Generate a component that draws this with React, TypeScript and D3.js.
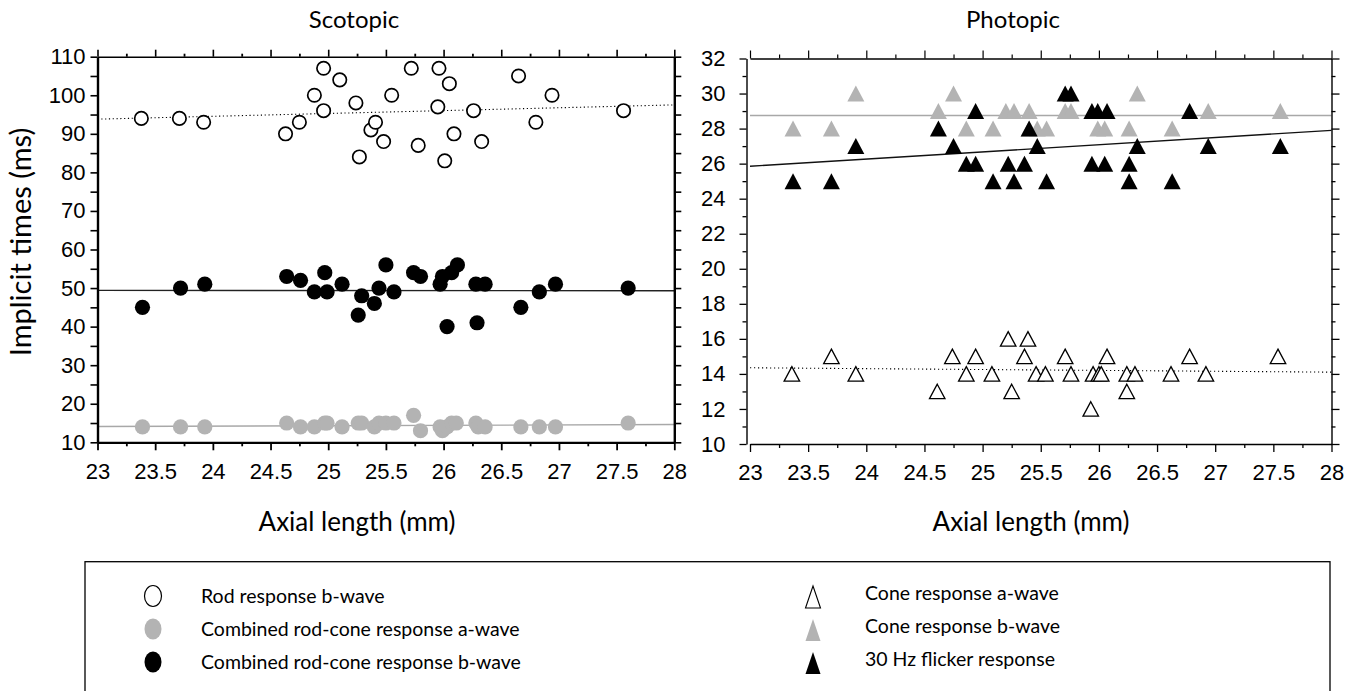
import React, { useRef, useEffect } from "react";
import * as d3 from "d3";

// ---- Scotopic panel ----
const rodX = [23.38, 23.71, 23.92, 24.63, 24.75, 24.88, 24.96, 24.96, 25.10, 25.24, 25.27, 25.37, 25.41, 25.48, 25.55, 25.72, 25.78, 25.96, 25.95, 26.05, 26.01, 26.09, 26.26, 26.33, 26.65, 26.80, 26.94, 27.56];
const rodY = [94, 94, 93, 90, 93, 100, 107, 96, 104, 98, 84, 91, 93, 88, 100, 107, 87, 107, 97, 103, 83, 90, 96, 88, 105, 93, 100, 96];

const mixBX = [23.39, 23.72, 23.93, 24.64, 24.76, 24.88, 24.97, 24.99, 25.12, 25.26, 25.29, 25.40, 25.44, 25.50, 25.57, 25.74, 25.80, 25.97, 25.99, 26.03, 26.07, 26.12, 26.28, 26.29, 26.36, 26.67, 26.83, 26.97, 27.60];
const mixBY = [45, 50, 51, 53, 52, 49, 54, 49, 51, 43, 48, 46, 50, 56, 49, 54, 53, 51, 53, 40, 54, 56, 51, 41, 51, 45, 49, 51, 50];

const mixAX = [23.39, 23.72, 23.93, 24.64, 24.76, 24.88, 24.97, 24.99, 25.12, 25.26, 25.29, 25.40, 25.44, 25.50, 25.57, 25.74, 25.80, 25.97, 25.99, 26.03, 26.07, 26.11, 26.28, 26.30, 26.36, 26.67, 26.83, 26.97, 27.60];
const mixAY = [14, 14, 14, 15, 14, 14, 15, 15, 14, 15, 15, 14, 15, 15, 15, 17, 13, 14, 13, 14, 15, 15, 15, 14, 14, 14, 14, 14, 15];

// regression lines: value at x = 23 and x = 28
const rodFit = [93.8, 97.5];
const mixBFit = [49.4, 49.3];
const mixAFit = [14.1, 14.6];

// ---- Photopic panel ----
const coneAX = [23.36, 23.70, 23.91, 24.61, 24.74, 24.86, 24.94, 25.08, 25.22, 25.25, 25.36, 25.39, 25.46, 25.54, 25.71, 25.76, 25.93, 25.95, 26.00, 26.02, 26.07, 26.24, 26.24, 26.31, 26.62, 26.78, 26.92, 27.54];
const coneAY = [14, 15, 14, 13, 15, 14, 15, 14, 16, 13, 15, 16, 14, 14, 15, 14, 12, 14, 14, 14, 15, 14, 13, 14, 14, 15, 14, 15];

const coneBX = [23.37, 23.70, 24.86, 25.09, 25.40, 25.47, 25.55, 25.99, 26.05, 26.26, 26.63, 24.62, 25.20, 25.27, 25.40, 25.71, 25.76, 26.94, 27.56, 23.91, 24.75, 26.33];
const coneBY = [28, 28, 28, 28, 28, 28, 28, 28, 28, 28, 28, 29, 29, 29, 29, 29, 29, 29, 29, 30, 30, 30];

const flickX = [23.37, 23.70, 25.09, 25.27, 25.55, 26.26, 26.63, 24.86, 24.94, 25.22, 25.36, 25.94, 26.05, 26.26, 23.91, 24.75, 25.47, 26.33, 26.94, 27.56, 24.62, 25.40, 24.94, 25.94, 25.99, 26.07, 26.78, 25.71, 25.76];
const flickY = [25, 25, 25, 25, 25, 25, 25, 26, 26, 26, 26, 26, 26, 26, 27, 27, 27, 27, 27, 27, 28, 28, 29, 29, 29, 29, 29, 30, 30];

const coneAFit = [14.35, 14.1];
const coneBFit = [28.75, 28.75];
const flickFit = [25.85, 27.9];

// ---- ticks ----
const xTicks = [23, 23.5, 24, 24.5, 25, 25.5, 26, 26.5, 27, 27.5, 28];
const xMinor = [23.25, 23.75, 24.25, 24.75, 25.25, 25.75, 26.25, 26.75, 27.25, 27.75];
const scotTicks = [10, 15, 20, 25, 30, 35, 40, 45, 50, 55, 60, 65, 70, 75, 80, 85, 90, 95, 100, 105, 110];
const photMajor = [10, 12, 14, 16, 18, 20, 22, 24, 26, 28, 30, 32];
const photMinor = [11, 13, 15, 17, 19, 21, 23, 25, 27, 29, 31];

const legendLeft = ["Rod response b-wave", "Combined rod-cone response a-wave", "Combined rod-cone response b-wave"];
const legendRight = ["Cone response a-wave", "Cone response b-wave", "30 Hz flicker response"];

const GRAY = "#b3b3b3";
const NUM_FONT = "'Liberation Sans', Arial, sans-serif";
const TXT_FONT = "Lato, 'Open Sans', sans-serif";

const zip = (xs: number[], ys: number[]) => xs.map((x, i) => ({ x, y: ys[i] }));

const tri = (w: number, h: number) => `M0,${-h / 2}L${w / 2},${h / 2}L${-w / 2},${h / 2}Z`;

function styleAxis(g: any, lw: number, tlw: number) {
  g.attr("font-family", NUM_FONT).attr("font-size", 22);
  g.select(".domain").attr("stroke-width", lw);
  g.selectAll(".tick line").attr("stroke-width", tlw);
  g.selectAll("text").attr("fill", "#000");
}

export default function App() {
  const svgRef = useRef<SVGSVGElement>(null);

  useEffect(() => {
    const svg = d3.select(svgRef.current);
    svg.selectAll("*").remove();

    // ================= Scotopic =================
    const x1 = d3.scaleLinear().domain([23, 28]).range([97.5, 674.3]);
    const y1 = d3.scaleLinear().domain([10, 110]).range([442.3, 56.7]);
    const p1 = svg.append("g");

    const fitLine = (g: any, x: any, y: any, vals: number[], color: string, dash: string | null) => {
      g.append("line")
        .attr("x1", x(23)).attr("y1", y(vals[0]))
        .attr("x2", x(28)).attr("y2", y(vals[1]))
        .attr("stroke", color).attr("stroke-width", dash ? 1.1 : 1.4)
        .attr("stroke-dasharray", dash);
    };

    fitLine(p1, x1, y1, mixAFit, "#a8a8a8", null);
    fitLine(p1, x1, y1, mixBFit, "#222", null);
    fitLine(p1, x1, y1, rodFit, "#000", "1.2 2.6");

    p1.append("g").selectAll("circle").data(zip(mixAX, mixAY)).join("circle")
      .attr("cx", d => x1(d.x)).attr("cy", d => y1(d.y)).attr("r", 7.6).attr("fill", GRAY);
    p1.append("g").selectAll("circle").data(zip(mixBX, mixBY)).join("circle")
      .attr("cx", d => x1(d.x)).attr("cy", d => y1(d.y)).attr("r", 7.6).attr("fill", "#000");
    p1.append("g").selectAll("circle").data(zip(rodX, rodY)).join("circle")
      .attr("cx", d => x1(d.x)).attr("cy", d => y1(d.y)).attr("r", 6.7)
      .attr("fill", "#fff").attr("stroke", "#000").attr("stroke-width", 1.7);

    // axes
    const b1m = p1.append("g").attr("transform", `translate(0,${y1(10)})`)
      .call(d3.axisBottom(x1).tickValues(xMinor).tickSize(4).tickFormat(() => ""));
    b1m.select(".domain").remove();
    b1m.selectAll(".tick line").attr("stroke-width", 1.8);
    const b1 = p1.append("g").attr("transform", `translate(0,${y1(10)})`)
      .call(d3.axisBottom(x1).tickValues(xTicks).tickSize(8).tickSizeOuter(0).tickPadding(13).tickFormat(d => String(d)));
    styleAxis(b1, 2.2, 1.8);

    const t1m = p1.append("g").attr("transform", `translate(0,${y1(110)})`)
      .call(d3.axisTop(x1).tickValues(xMinor).tickSize(3).tickFormat(() => ""));
    t1m.select(".domain").remove();
    t1m.selectAll(".tick line").attr("stroke-width", 1.8);
    const t1 = p1.append("g").attr("transform", `translate(0,${y1(110)})`)
      .call(d3.axisTop(x1).tickValues(xTicks).tickSize(7).tickSizeOuter(0).tickFormat(() => ""));
    styleAxis(t1, 1.6, 1.6);

    const l1 = p1.append("g").attr("transform", `translate(${x1(23)},0)`)
      .call(d3.axisLeft(y1).tickValues(scotTicks).tickSize(7).tickSizeOuter(0).tickPadding(5)
        .tickFormat(d => (+d % 10 === 0 ? String(d) : "")));
    styleAxis(l1, 2.4, 1.6);

    const r1 = p1.append("g").attr("transform", `translate(${x1(28)},0)`)
      .call(d3.axisRight(y1).tickValues(scotTicks).tickSize(7).tickSizeOuter(0).tickFormat(() => ""));
    styleAxis(r1, 2.4, 1.6);

    // ================= Photopic =================
    const x2 = d3.scaleLinear().domain([23, 28]).range([750, 1331.5]);
    const y2 = d3.scaleLinear().domain([10, 32]).range([444, 58.5]);
    const p2 = svg.append("g");

    fitLine(p2, x2, y2, coneBFit, "#a8a8a8", null);
    fitLine(p2, x2, y2, flickFit, "#111", null);
    fitLine(p2, x2, y2, coneAFit, "#000", "1.2 2.8");

    p2.append("g").selectAll("path").data(zip(coneBX, coneBY)).join("path")
      .attr("transform", d => `translate(${x2(d.x)},${y2(d.y)})`)
      .attr("d", tri(17, 16)).attr("fill", GRAY);
    p2.append("g").selectAll("path").data(zip(flickX, flickY)).join("path")
      .attr("transform", d => `translate(${x2(d.x)},${y2(d.y)})`)
      .attr("d", tri(17, 16)).attr("fill", "#000");
    p2.append("g").selectAll("path").data(zip(coneAX, coneAY)).join("path")
      .attr("transform", d => `translate(${x2(d.x)},${y2(d.y)})`)
      .attr("d", tri(15.5, 14.5)).attr("fill", "#fff").attr("stroke", "#000").attr("stroke-width", 1.3);

    const b2m = p2.append("g").attr("transform", `translate(0,${y2(10)})`)
      .call(d3.axisBottom(x2).tickValues(xMinor).tickSize(4).tickFormat(() => ""));
    b2m.select(".domain").remove();
    b2m.selectAll(".tick line").attr("stroke-width", 1.3);
    const b2 = p2.append("g").attr("transform", `translate(0,${y2(10)})`)
      .call(d3.axisBottom(x2).tickValues(xTicks).tickSize(8).tickSizeOuter(0).tickPadding(12).tickFormat(d => String(d)));
    styleAxis(b2, 1.4, 1.3);

    const t2m = p2.append("g").attr("transform", `translate(0,${y2(32)})`)
      .call(d3.axisTop(x2).tickValues(xMinor).tickSize(4).tickFormat(() => ""));
    t2m.select(".domain").remove();
    t2m.selectAll(".tick line").attr("stroke-width", 1.2);
    const t2 = p2.append("g").attr("transform", `translate(0,${y2(32)})`)
      .call(d3.axisTop(x2).tickValues(xTicks).tickSize(8).tickSizeOuter(0).tickFormat(() => ""));
    styleAxis(t2, 1.4, 1.2);

    const yAxisX = x2(23) - 3.5;
    const l2m = p2.append("g").attr("transform", `translate(${yAxisX},0)`)
      .call(d3.axisLeft(y2).tickValues(photMinor).tickSize(4).tickFormat(() => ""));
    l2m.select(".domain").remove();
    l2m.selectAll(".tick line").attr("stroke-width", 1.3);
    const l2 = p2.append("g").attr("transform", `translate(${yAxisX},0)`)
      .call(d3.axisLeft(y2).tickValues(photMajor).tickSize(7).tickSizeOuter(0).tickPadding(14).tickFormat(d => String(d)));
    styleAxis(l2, 1.4, 1.3);

    const r2m = p2.append("g").attr("transform", `translate(${x2(28)},0)`)
      .call(d3.axisRight(y2).tickValues(photMinor).tickSize(4).tickFormat(() => ""));
    r2m.select(".domain").remove();
    r2m.selectAll(".tick line").attr("stroke-width", 1.3);
    const r2 = p2.append("g").attr("transform", `translate(${x2(28)},0)`)
      .call(d3.axisRight(y2).tickValues(photMajor).tickSize(8).tickSizeOuter(0).tickFormat(() => ""));
    styleAxis(r2, 1.4, 1.3);

    // ================= Titles =================
    const txt = (x: number, y: number, s: string, size: number, anchor = "middle") =>
      svg.append("text").attr("x", x).attr("y", y).attr("text-anchor", anchor)
        .attr("font-family", TXT_FONT).attr("font-size", size).attr("fill", "#000").text(s);

    txt(354, 28, "Scotopic", 24);
    txt(1013, 28, "Photopic", 24);
    txt(357, 531, "Axial length (mm)", 26);
    txt(1031, 531, "Axial length (mm)", 26);
    txt(0, 0, "Implicit times (ms)", 29)
      .attr("transform", "translate(31,242) rotate(-90)");

    // ================= Legend =================
    const lg = svg.append("g");
    lg.append("rect").attr("x", 85).attr("y", 561.7).attr("width", 1245).attr("height", 160)
      .attr("fill", "none").attr("stroke", "#000").attr("stroke-width", 1.3);
    const rowY = [596, 629, 662];
    const circleFill = ["#fff", GRAY, "#000"];
    const triFill = ["#fff", GRAY, "#000"];
    legendLeft.forEach((s, i) => {
      lg.append("ellipse").attr("cx", 153).attr("cy", rowY[i]).attr("rx", 8.5).attr("ry", 10.5)
        .attr("fill", circleFill[i]).attr("stroke", i === 0 ? "#000" : "none").attr("stroke-width", 1.2);
      txt(201, rowY[i] + 7, s, 19.5, "start");
    });
    legendRight.forEach((s, i) => {
      lg.append("path").attr("transform", `translate(813,${rowY[i] + 1})`)
        .attr("d", tri(15, 22)).attr("fill", triFill[i])
        .attr("stroke", i === 0 ? "#000" : "none").attr("stroke-width", 1.1);
      txt(865, rowY[i] + 3.5, s, 19.5, "start");
    });
  }, []);

  return (
    <svg ref={svgRef} width={1358} height={691}
      style={{ position: "absolute", left: 0, top: 0, background: "#fff" }} />
  );
}
